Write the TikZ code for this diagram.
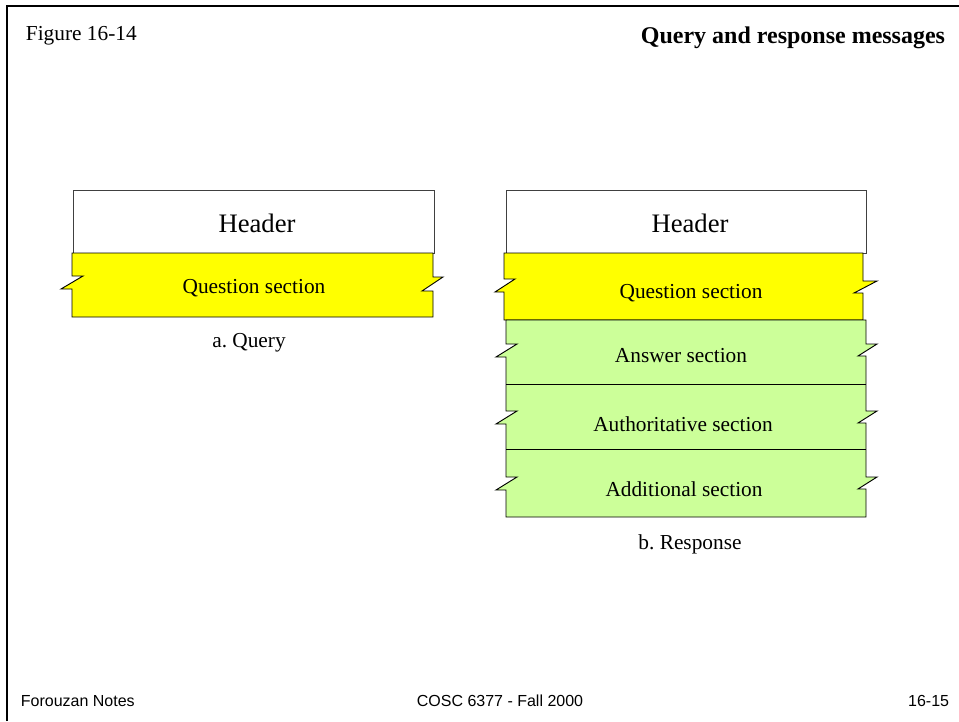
\documentclass[tikz,border=0pt]{standalone}
\usepackage{fontspec}
\setmainfont{Liberation Serif}
\newfontfamily\arialfont{Liberation Sans}
\definecolor{qyellow}{HTML}{FFFF00}
\definecolor{rgreen}{HTML}{CCFF99}
\frenchspacing
\begin{document}
\begin{tikzpicture}[x=0.75pt, y=-0.75pt, line join=miter, line width=0.7pt]
\useasboundingbox (0,0) rectangle (959,721);
\draw[line width=1.6pt] (7,721) -- (7,6) -- (959,6);
\node[anchor=base west, font=\fontsize{16}{18}\selectfont] (fig) at (21,40) {Figure 16-14};
\node[anchor=base east, font=\fontsize{18}{20}\selectfont\bfseries] (title) at (950,43) {Query and response messages};
% query
\draw[fill=white, draw=black!75] (73,190) rectangle (434,253);
\node[anchor=base, font=\fontsize{20}{22}\selectfont] (qhead) at (257,232) {Header};
\draw[fill=qyellow] (72,253) -- (72,276) -- ++(11,0) -- ++(-22,13) -- ++(11,0) -- (72,317)
  -- (433,317) -- (433,291) -- ++(-11,0) -- ++(21,-14) -- ++(-10,0) -- (433,253) -- cycle;
\node[anchor=base, font=\fontsize{16}{18}\selectfont] (qques) at (254,293) {Question section};
\node[anchor=base, font=\fontsize{16}{18}\selectfont] (qcap) at (249,347) {a. Query};
% response
\draw[fill=white, draw=black!75] (506,190) rectangle (866,253);
\node[anchor=base, font=\fontsize{20}{22}\selectfont] (rhead) at (690,232) {Header};
\draw[fill=qyellow] (504,253) -- (504,279) -- ++(11,0) -- ++(-20,13) -- ++(9,0) -- (504,320)
  -- (863,320) -- (863,293) -- ++(-9,0) -- ++(23,-12) -- ++(-14,0) -- (863,253) -- cycle;
\node[anchor=base, font=\fontsize{16}{18}\selectfont] (rques) at (691,298) {Question section};
\draw[fill=rgreen] (506,320) -- (506,344) -- ++(11,0) -- ++(-21,13) -- ++(10,0) -- (506,411)
  -- ++(11,0) -- ++(-21,13) -- ++(10,0) -- (506,477) -- ++(11,0) -- ++(-21,13) -- ++(10,0)
  -- (506,517) -- (866,517) -- (866,489) -- ++(-8,0) -- ++(19,-12) -- ++(-11,0)
  -- (866,423) -- ++(-8,0) -- ++(19,-12) -- ++(-11,0) -- (866,356) -- ++(-8,0) -- ++(19,-12)
  -- ++(-11,0) -- (866,320) -- cycle;
\draw (506,384) -- (866,384);
\draw (506,449) -- (866,449);
\node[anchor=base, font=\fontsize{16}{18}\selectfont] (rans) at (681,362) {Answer section};
\node[anchor=base, font=\fontsize{16}{18}\selectfont] (rauth) at (683,431) {Authoritative section};
\node[anchor=base, font=\fontsize{16}{18}\selectfont] (radd) at (684,496) {Additional section};
\node[anchor=base, font=\fontsize{16}{18}\selectfont] (rcap) at (690,549) {b. Response};
% footer
\node[anchor=base west, font=\arialfont\fontsize{12}{14}\selectfont] (fleft) at (16,706) {Forouzan Notes};
\node[anchor=base, font=\arialfont\fontsize{12}{14}\selectfont] (fmid) at (500,706) {COSC 6377 - Fall 2000};
\node[anchor=base east, font=\arialfont\fontsize{12}{14}\selectfont] (fright) at (954,706) {16-15};
\end{tikzpicture}
\end{document}
